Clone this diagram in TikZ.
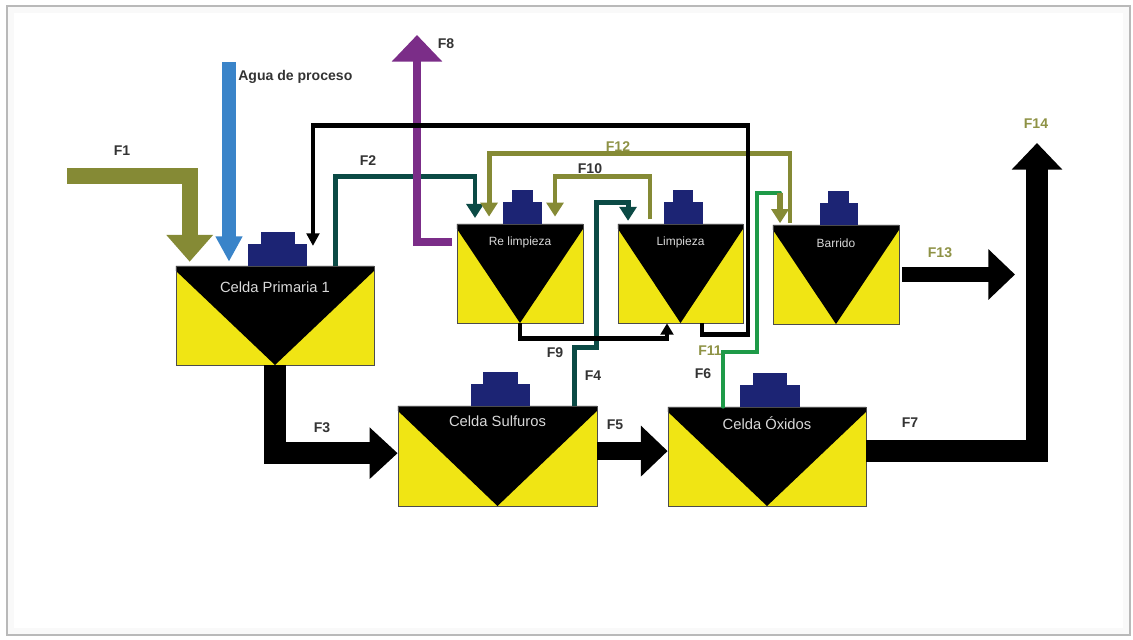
\documentclass[tikz,border=0pt]{standalone}
\usepackage{fontspec}
\setmainfont{Liberation Sans}
\usepackage{tikz}
\usetikzlibrary{positioning,calc,arrows.meta}
\definecolor{celyellow}{HTML}{F0E514}
\definecolor{motorblue}{HTML}{1C2474}
\definecolor{flowolive}{HTML}{858A35}
\definecolor{flowteal}{HTML}{0B4A45}
\definecolor{flowgreen}{HTML}{1E9A48}
\definecolor{flowpurple}{HTML}{7B2D88}
\definecolor{flowblue}{HTML}{3A84C9}
\definecolor{txtdark}{HTML}{333333}
\definecolor{txtolive}{HTML}{8E9245}
\definecolor{celltext}{HTML}{D8D8D8}

\begin{document}
\begin{tikzpicture}[x=0.025cm, y=-0.025cm, line join=miter,
  cell/.style={draw=black!70, line width=0.5pt, fill=celyellow, inner sep=0pt, minimum height=2.475cm,
    path picture={\fill[black] (path picture bounding box.north west) -- (path picture bounding box.north east)
      -- ([yshift=-3.5pt]path picture bounding box.north east) -- (path picture bounding box.south)
      -- ([yshift=-3.5pt]path picture bounding box.north west) -- cycle;}},
  motor/.style={fill=motorblue, inner sep=0pt, outer sep=0pt, minimum height=0.55cm},
  celltxt/.style={text=celltext, inner sep=0pt, font=\fontsize{10.5}{12}\selectfont},
  smalltxt/.style={text=celltext, inner sep=0pt, font=\fontsize{8.5}{10}\selectfont},
  flab/.style={text=txtdark, inner sep=0pt, font=\bfseries\fontsize{10}{12}\selectfont},
  olab/.style={text=txtolive, inner sep=0pt, font=\bfseries\fontsize{10}{12}\selectfont},
  pipe/.style={line width=3.5pt, -{Triangle[width=12pt,length=10pt]}},
  trunk/.style={-{Triangle[width=35pt,length=19pt]}}]

  \useasboundingbox (0,0) rectangle (1133,639);
  % frame
  \draw[gray!5, line width=4pt] (11,10) rectangle (1126,631);
  \draw[gray!55, line width=1.2pt] (7,6) rectangle (1130,635);

  % flotation cells
  \node[cell, minimum width=4.95cm] (prim) at (275,315.5) {};
  \node[cell, minimum width=4.975cm, minimum height=2.5cm] (sulf) at (497.5,456) {};
  \node[cell, minimum width=4.95cm] (oxid) at (767,456.5) {};
  \node[cell, minimum width=3.15cm] (relim) at (520,273.5) {};
  \node[cell, minimum width=3.125cm] (limp) at (680.5,273.5) {};
  \node[cell, minimum width=3.15cm] (barr) at (836,274.5) {};

  \foreach \c/\wl/\wu in {prim/1.475/0.85, sulf/1.475/0.875, oxid/1.5/0.85, relim/0.975/0.525, limp/0.975/0.5, barr/0.95/0.525}
  {
    \node[motor, minimum width=\wl cm, above=0pt of \c.north, xshift=1.8pt] (\c-m) {};
    \node[motor, minimum width=\wu cm, minimum height=0.3cm, above=0pt of \c-m.north] (\c-mt) {};
  }

  \node[celltxt] (prim-t) at ([yshift=-15.6pt]prim.north) {Celda Primaria 1};
  \node[celltxt] (sulf-t) at ([yshift=-11.4pt]sulf.north) {Celda Sulfuros};
  \node[celltxt] (oxid-t) at ([yshift=-11.4pt]oxid.north) {Celda Óxidos};
  \node[smalltxt] (relim-t) at ([yshift=-13.5pt]relim.north) {Re limpieza};
  \node[smalltxt] (limp-t) at ([yshift=-13.5pt]limp.north) {Limpieza};
  \node[smalltxt] (barr-t) at ([yshift=-13.5pt]barr.north) {Barrido};

  % free ends
  \coordinate (f1in) at (67,176);
  \coordinate (agua) at (229,62);
  \coordinate (f8end) at (417,35);
  \coordinate (f13end) at (1015,274.5);
  \coordinate (f14end) at (1037,143);
  \coordinate (f11) at ([xshift=-39.8pt,yshift=22.8pt]barr.north);
  \coordinate (f5a) at ([yshift=3.5pt]sulf.east);

  % feed and water
  \draw[flowolive, line width=11.4pt, -{Triangle[width=32pt,length=19pt]}, shorten >=2.8pt] (f1in) -| ([xshift=10pt]prim.north west);
  \draw[flowblue, line width=10pt, -{Triangle[width=18pt,length=18pt]}, shorten >=2.8pt] (agua) -- (agua |- prim.north);

  % cleaner circuit
  \draw[pipe, flowteal] ([xshift=42.7pt]prim.north) -- ++(0,-89) -| ([xshift=-32pt,yshift=4pt]relim.north);
  \draw[pipe, flowteal] ([xshift=54.8pt]sulf.north) -- ++(0,-58) -- ++(22,0) -- ++(0,-145) -| ([xshift=-37.3pt,yshift=2pt]limp.north);
  \draw[pipe, flowolive] ([xshift=-32.7pt,yshift=1pt]barr.north) -- ++(0,-70) -| ([xshift=-22pt,yshift=5pt]relim.north);
  \draw[pipe, flowolive] ([xshift=-21.7pt,yshift=3pt]limp.north) -- ++(0,-43) -| ([xshift=24.9pt,yshift=5pt]relim.north);
  \draw[flowpurple, line width=5.7pt, -{Triangle[width=35pt,length=19pt]}] ([xshift=-3.5pt,yshift=-12.8pt]relim.north west) -| (f8end);
  \draw[pipe, black, -{Triangle[width=9pt,length=8pt]}] (relim.south) -- ++(0,15) -| ([xshift=-9.6pt]limp.south);
  \draw[pipe, black, -{Triangle[width=9pt,length=9pt]}] ([xshift=15.3pt]limp.south) -- ++(0,11) -- ++(46,0) -- ++(0,-209) -| ([xshift=27pt,yshift=14pt]prim.north);
  \draw[flowgreen, line width=2.8pt, line cap=round] ([xshift=-31pt]oxid.north) -- ++(0,-55) -- ++(34,0) |- (f11);
  \draw[pipe, flowolive, line width=4pt] (f11) -- ([xshift=-39.8pt,yshift=1pt]barr.north);

  % main line
  \draw[trunk, black, line width=15.6pt, -{Triangle[width=35.6pt,length=20pt]}] (prim.south) |- ([yshift=2pt]sulf.west);
  \draw[trunk, black, line width=12.8pt] (f5a) -- (f5a -| oxid.west);
  \draw[trunk, black, line width=15.6pt] ([yshift=4pt]oxid.east) -| (f14end);
  \draw[trunk, black, line width=10.7pt] ([xshift=2pt]barr.east) -- (f13end);

  % stream labels
  \node[flab] (lf1) at (122,151) {F1};
  \node[flab, anchor=west] (lagua) at (238,77) {Agua de proceso};
  \node[flab] (lf8) at (446,44) {F8};
  \node[flab] (lf2) at (368,161) {F2};
  \node[olab] (lf12) at (618,147) {F12};
  \node[flab] (lf10) at (590,169) {F10};
  \node[olab] (lf14) at (1036,124) {F14};
  \node[olab] (lf13) at (940,253) {F13};
  \node[flab] (lf9) at (555,353) {F9};
  \node[olab] (lf11) at (710,351) {F11};
  \node[flab] (lf4) at (593,376) {F4};
  \node[flab] (lf6) at (703,374) {F6};
  \node[flab] (lf3) at (322,428) {F3};
  \node[flab] (lf5) at (615,425) {F5};
  \node[flab] (lf7) at (910,423) {F7};
\end{tikzpicture}
\end{document}
